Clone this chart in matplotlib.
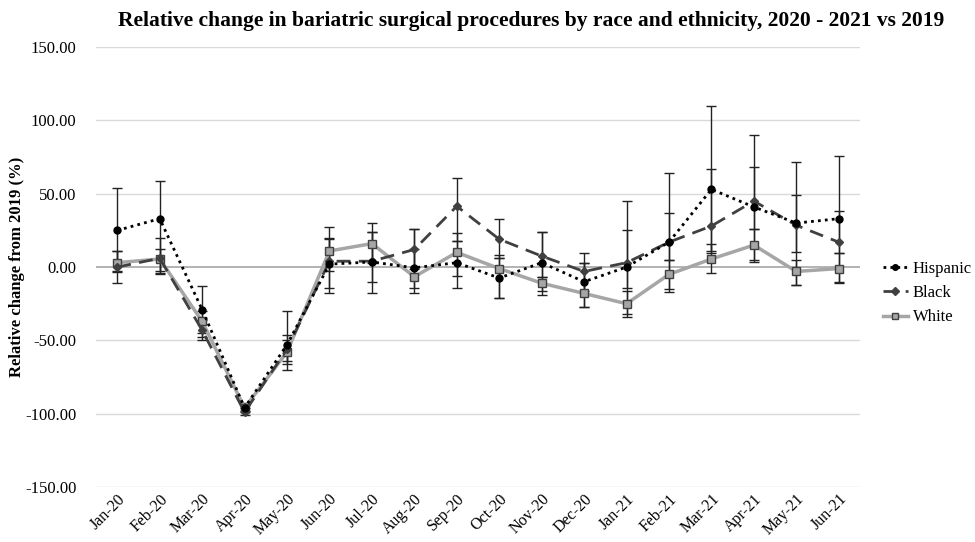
import matplotlib
matplotlib.use('Agg')
import matplotlib.pyplot as plt
import numpy as np

plt.rcParams['font.family'] = ['Liberation Serif', 'DejaVu Serif']

months = ['Jan-20', 'Feb-20', 'Mar-20', 'Apr-20', 'May-20', 'Jun-20', 'Jul-20', 'Aug-20',
          'Sep-20', 'Oct-20', 'Nov-20', 'Dec-20', 'Jan-21', 'Feb-21', 'Mar-21', 'Apr-21',
          'May-21', 'Jun-21']

hispanic = [25, 33, -29, -96, -53, 2, 3.5, -0.5, 3, -7.5, 3, -10, 0, 17, 53, 41, 30, 33]
hispanic_lo = [-11, -4, -50, -99, -70, -18, -18, -14, -14, -21, -19, -27, -34, -15, 9.5, 5, -12, -11]
hispanic_hi = [54, 59, -13, -93, -30, 27, 30, 12, 23, 8, 24, 3, 45, 64, 110, 90, 72, 76]

black = [0, 6, -43, -99, -56, 4, 4, 12, 41.5, 19, 7.5, -3, 3, 17, 28, 45, 28.5, 17]
black_lo = [-3.5, -3, -48, -101, -66, -14, -10, -1, 18, 6, -7, -16, -14, 5, 11, 26, 10, 9.5]
black_hi = [11, 20, -36, -96, -46, 20, 24, 26, 61, 33, 24, 9.5, 25, 37, 67, 68, 49, 38]

white = [3, 5.5, -37, -96, -58, 11, 16, -6.6, 10, -1, -11, -18, -25, -5, 5.5, 15, -3, -1]
white_lo = [-3, -5, -45, -98, -64, -3, 3, -18, -6, -21, -16, -27, -32, -17, -4, 3.4, -12, -10]
white_hi = [11, 12, -30, -94, -50, 19, 24, 26, 18, 6, -7, 3, -16, 5, 16, 26, 5, 9.5]

x = np.arange(len(months))

fig = plt.figure(figsize=(9.75, 5.42), dpi=100)
ax = fig.add_axes([0.0985, 0.1015, 0.7835, 0.8115])

for v in [150, 100, 50, -50, -100, -150]:
    ax.axhline(v, color='#d9d9d9', lw=1, zorder=0)
ax.axhline(0, color='#a6a6a6', lw=1.2, zorder=0)


def draw(vals, lo, hi, **kw):
    vals = np.array(vals, dtype=float)
    yerr = [vals - np.array(lo), np.array(hi) - vals]
    ax.errorbar(x, vals, yerr=yerr, ecolor='#222222', elinewidth=1, capsize=3.5,
                capthick=1, zorder=2, **kw)


draw(white, white_lo, white_hi, color='#a6a6a6', lw=2.5, ls='-', marker='s',
     markersize=6, markerfacecolor='#a6a6a6', markeredgecolor='#404040', label='White')
draw(black, black_lo, black_hi, color='#404040', lw=2, ls=(0, (5, 3)), marker='D',
     markersize=4.5, markerfacecolor='#404040', markeredgecolor='#404040', label='Black')
draw(hispanic, hispanic_lo, hispanic_hi, color='black', lw=2, ls=(0, (1, 1.5)), marker='o',
     markersize=5, markerfacecolor='black', markeredgecolor='black', label='Hispanic')

ax.set_xlim(-0.5, 17.5)
ax.set_ylim(-150, 150)
ax.set_yticks([150, 100, 50, 0, -50, -100, -150])
ax.set_yticklabels(['%.2f' % v for v in [150, 100, 50, 0, -50, -100, -150]], fontsize=12)
ax.set_xticks(x)
ax.set_xticklabels(months, rotation=45, ha='right', rotation_mode='anchor', fontsize=11.5)
ax.tick_params(axis='y', length=0, pad=14)
ax.tick_params(axis='x', length=0, pad=3)
for s in ax.spines.values():
    s.set_visible(False)

ax.set_ylabel('Relative change from 2019 (%)', fontsize=12, fontweight='bold', labelpad=0)
fig.text(0.545, 0.962,
         'Relative change in bariatric surgical procedures by race and ethnicity, 2020 - 2021 vs 2019',
         ha='center', va='center', fontsize=15.5, fontweight='bold')

handles, labels = ax.get_legend_handles_labels()
order = [2, 1, 0]
ax.legend([handles[i][0] for i in order], [labels[i] for i in order],
          loc='center left', bbox_to_anchor=(1.0105, 0.441), frameon=False, fontsize=12,
          handlelength=1.5, handletextpad=0.3, labelspacing=0.5, markerscale=0.8)

fig.savefig('out.png', dpi=100)
